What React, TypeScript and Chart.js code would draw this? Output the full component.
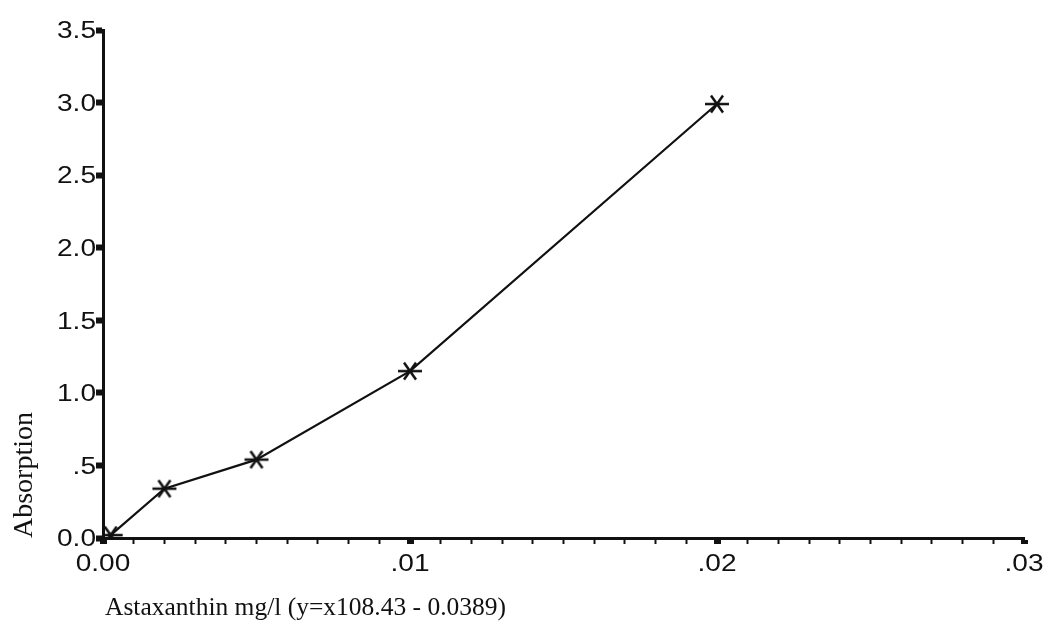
import React, { useEffect, useRef } from "react";
import { Chart, registerables } from "chart.js";

Chart.register(...registerables);

// Calibration series: concentration (mg/l) vs. measured absorption
const concentration = [0.00025, 0.002, 0.005, 0.01, 0.02];
const absorption = [0.02, 0.34, 0.54, 1.15, 2.99];

// Axis tick labels (their numeric value is the tick position)
const xTickLabels = ["0.00", ".01", ".02", ".03"];
const yTickLabels = ["0.0", ".5", "1.0", "1.5", "2.0", "2.5", "3.0", "3.5"];

const xTitle = "Astaxanthin mg/l (y=x108.43 - 0.0389)";
const yTitle = "Absorption";

const W = 1049;
const H = 642;
const TICK_FONT = '23px "Liberation Sans", Arial, Helvetica, sans-serif';
const TICK_STRETCH = 1.22;

function makeAsterisk(): HTMLCanvasElement {
  const c = document.createElement("canvas");
  c.width = 26;
  c.height = 20;
  const g = c.getContext("2d")!;
  g.strokeStyle = "#111";
  g.lineWidth = 2.5;
  g.beginPath();
  g.moveTo(1, 10);
  g.lineTo(25, 10);
  g.moveTo(7, 1.5);
  g.lineTo(19, 18.5);
  g.moveTo(19, 1.5);
  g.lineTo(7, 18.5);
  g.stroke();
  return c;
}

// Draws a wide-set tick label at (x, y) with the given alignment
function stretchedText(ctx: CanvasRenderingContext2D, text: string, x: number, y: number, align: "center" | "right") {
  ctx.save();
  ctx.translate(x, y);
  ctx.scale(TICK_STRETCH, 1);
  ctx.textAlign = align;
  ctx.textBaseline = "middle";
  ctx.fillText(text, 0, 0);
  ctx.restore();
}

const labelsPlugin = {
  id: "axisLabels",
  afterDraw(chart: Chart) {
    const ctx = chart.ctx;
    const xs = chart.scales.x;
    const ys = chart.scales.y;
    ctx.save();
    ctx.fillStyle = "#111";
    ctx.font = TICK_FONT;
    for (const lbl of xTickLabels) {
      stretchedText(ctx, lbl, xs.getPixelForValue(Number(lbl)), xs.top + 27, "center");
    }
    for (const lbl of yTickLabels) {
      stretchedText(ctx, lbl, ys.right - 7, ys.getPixelForValue(Number(lbl)) + 2, "right");
    }

    ctx.font = '25.5px "Liberation Serif", "Times New Roman", serif';
    ctx.textAlign = "left";
    ctx.textBaseline = "alphabetic";
    ctx.fillText(xTitle, 105, 615);

    ctx.font = '28px "Liberation Serif", "Times New Roman", serif';
    ctx.translate(32, 475);
    ctx.rotate(-Math.PI / 2);
    ctx.textAlign = "center";
    ctx.fillText(yTitle, 0, 0);
    ctx.restore();
  },
};

export default function App() {
  const ref = useRef<HTMLCanvasElement | null>(null);

  useEffect(() => {
    if (!ref.current) return;
    const star = makeAsterisk();
    const isMajorX = (v: number) => Math.round(v * 1000) % 10 === 0;

    const chart = new Chart(ref.current, {
      type: "line",
      data: {
        datasets: [
          {
            data: concentration.map((x, i) => ({ x, y: absorption[i] })),
            borderColor: "#111",
            borderWidth: 2.2,
            pointStyle: star,
            pointRadius: 10,
            pointHoverRadius: 10,
            tension: 0,
            clip: 0,
          },
        ],
      },
      options: {
        responsive: false,
        animation: false,
        events: [],
        layout: { padding: { left: 0, top: 30, right: W - 1024, bottom: 0 } },
        plugins: { legend: { display: false }, tooltip: { enabled: false } },
        scales: {
          x: {
            type: "linear",
            min: 0,
            max: 0.03,
            afterFit: (s: any) => {
              s.height = H - 538;
            },
            afterBuildTicks: (s: any) => {
              const t = [];
              for (let i = 0; i <= 30; i++) t.push({ value: i / 1000 });
              s.ticks = t;
            },
            border: { display: true, color: "#111", width: 3 },
            grid: {
              drawOnChartArea: false,
              drawTicks: true,
              tickLength: 6,
              tickColor: "#111",
              tickWidth: (c: any) => (c.tick && isMajorX(c.tick.value) ? 7 : 2),
            },
            ticks: { display: false, autoSkip: false },
          },
          y: {
            type: "linear",
            min: 0,
            max: 3.5,
            afterFit: (s: any) => {
              s.width = 103;
            },
            border: { display: true, color: "#111", width: 3 },
            grid: {
              drawOnChartArea: false,
              drawTicks: true,
              tickLength: 7,
              tickColor: "#111",
              tickWidth: 6,
            },
            ticks: { display: false, stepSize: 0.5 },
          },
        },
      },
      plugins: [labelsPlugin],
    });
    return () => chart.destroy();
  }, []);

  return (
    <div style={{ position: "absolute", left: 0, top: 0, width: W, height: H, background: "#fff" }}>
      <canvas ref={ref} width={W} height={H} style={{ display: "block" }} />
    </div>
  );
}
